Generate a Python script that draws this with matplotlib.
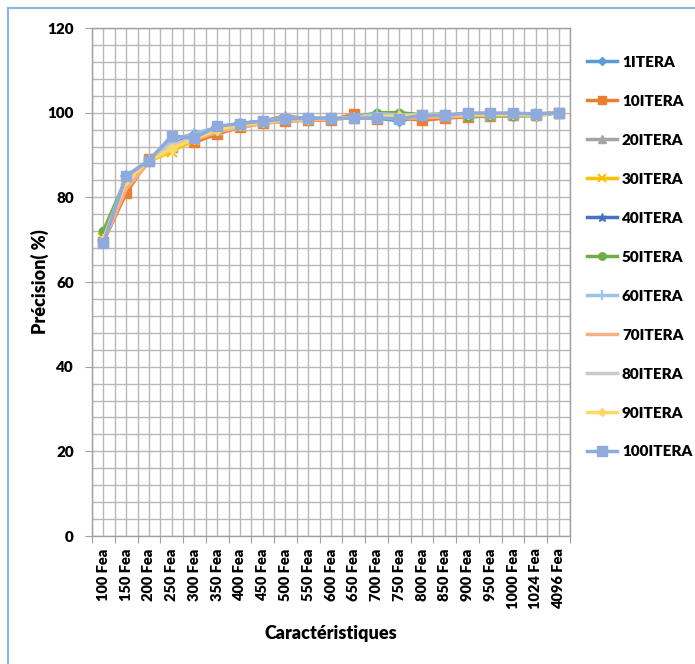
import matplotlib
matplotlib.use("Agg")
import matplotlib.pyplot as plt
from matplotlib.lines import Line2D
import numpy as np

plt.rcParams['font.family'] = ['Lato', 'DejaVu Sans']

categories = ["100 Fea", "150 Fea", "200 Fea", "250 Fea", "300 Fea", "350 Fea",
              "400 Fea", "450 Fea", "500 Fea", "550 Fea", "600 Fea", "650 Fea",
              "700 Fea", "750 Fea", "800 Fea", "850 Fea", "900 Fea", "950 Fea",
              "1000 Fea", "1024 Fea", "4096 Fea"]

it1 = [70.0, 84.5, 88.5, 93.5, 95.0, 96.5, 97.5, 98.0, 98.5, 98.5, 98.7, 98.8, 98.8, 98.0, 99.2, 99.2, 99.5, 99.6, 99.6, 99.5, 100.0]
it10 = [69.5, 81.0, 89.0, 92.0, 93.0, 95.0, 96.5, 97.5, 98.0, 98.2, 98.3, 99.6, 98.6, 98.8, 98.2, 98.7, 99.0, 99.3, 99.5, 99.5, 100.0]
it20 = [70.5, 84.0, 88.5, 92.0, 94.5, 96.0, 97.0, 98.0, 99.3, 98.5, 98.5, 98.8, 99.2, 99.5, 99.5, 99.3, 99.5, 99.5, 99.5, 99.5, 100.0]
it30 = [70.5, 84.0, 88.5, 90.8, 93.6, 96.0, 96.8, 97.8, 98.5, 98.5, 98.7, 98.8, 99.0, 99.3, 99.5, 99.2, 99.5, 99.5, 99.5, 99.5, 100.0]
it40 = [70.0, 84.5, 88.5, 93.0, 94.5, 96.5, 97.2, 98.0, 98.5, 98.7, 98.7, 98.8, 98.8, 98.6, 99.3, 99.3, 99.6, 99.6, 99.6, 99.5, 100.0]
it50 = [72.0, 84.5, 88.5, 92.5, 94.0, 96.0, 97.0, 98.0, 98.3, 98.5, 98.5, 98.8, 100.0, 100.0, 99.5, 99.7, 99.0, 99.2, 99.2, 99.3, 100.0]
it60 = [70.0, 85.0, 88.8, 93.5, 95.0, 96.5, 97.3, 98.0, 98.6, 98.7, 98.8, 98.8, 99.8, 99.5, 99.5, 99.5, 99.8, 99.8, 99.8, 99.7, 100.0]
it70 = [69.5, 82.0, 88.2, 92.0, 93.5, 95.5, 96.5, 97.5, 98.0, 98.3, 98.5, 98.8, 98.8, 98.6, 98.8, 99.0, 99.2, 99.4, 99.5, 99.5, 100.0]
it80 = [70.0, 84.0, 88.5, 92.5, 94.0, 96.0, 97.0, 98.0, 98.5, 98.6, 98.7, 98.8, 99.2, 99.3, 99.4, 99.4, 99.6, 99.6, 99.6, 99.5, 100.0]
it90 = [70.0, 84.0, 88.5, 91.5, 93.8, 96.0, 97.0, 97.8, 98.4, 98.6, 98.7, 98.8, 99.0, 99.2, 99.4, 99.4, 99.6, 99.6, 99.6, 99.5, 100.0]
it100 = [69.2, 85.0, 88.7, 94.5, 94.0, 96.8, 97.4, 98.0, 98.5, 98.7, 98.7, 98.7, 98.8, 98.5, 99.4, 99.4, 99.9, 99.9, 99.9, 99.7, 100.0]

series_names = ["1ITERA", "10ITERA", "20ITERA", "30ITERA", "40ITERA", "50ITERA",
                "60ITERA", "70ITERA", "80ITERA", "90ITERA", "100ITERA"]
series_values = [it1, it10, it20, it30, it40, it50, it60, it70, it80, it90, it100]

colors = ["#5B9BD5", "#ED7D31", "#A5A5A5", "#FFC000", "#4472C4", "#70AD47",
          "#9DC3E6", "#F4B183", "#C9C9C9", "#FFD966", "#8FAADC"]
markers = ["D", "s", "^", "x", "*", "o", "+", None, None, "D", "s"]
msizes = [5, 6.5, 6.5, 7, 7, 6, 8, 0, 0, 5, 7.5]

fig = plt.figure(figsize=(6.95, 6.64), dpi=100)
ax = fig.add_axes([92 / 695, 1 - 536 / 664, (570 - 92) / 695, (536 - 28) / 664])

x = np.arange(len(categories))
for name, vals, c, m, ms in zip(series_names, series_values, colors, markers, msizes):
    ax.plot(x, vals, color=c, lw=2.5, marker=m, markersize=ms,
            markeredgecolor=c, markerfacecolor=c, markeredgewidth=1.5 if m in ("x", "+") else 1,
            label=name, zorder=3, clip_on=False)

ax.set_xlim(-0.5, len(categories) - 0.5)
ax.set_ylim(0, 120)

# gridlines: every half category vertically, every 4 units horizontally
for gx in np.arange(-0.5, len(categories), 0.5):
    ax.axvline(gx, color="#b8b8b8", lw=1, zorder=1)
for gy in np.arange(0, 121, 4):
    ax.axhline(gy, color="#b8b8b8", lw=1, zorder=1)

ax.set_yticks(np.arange(0, 121, 20))
ax.set_yticklabels([str(v) for v in range(0, 121, 20)], fontsize=11, fontweight="heavy")
ax.set_xticks(np.arange(-0.5, len(categories), 1.0))
ax.set_xticklabels([])
ax.set_xticks(x, minor=True)
ax.set_xticklabels(categories, minor=True, rotation=90, fontsize=10.5, fontweight="heavy")
ax.tick_params(axis="x", which="major", length=5, color="#a0a0a0")
ax.tick_params(axis="x", which="minor", length=0, pad=9)
ax.tick_params(axis="y", length=5, color="#a0a0a0", pad=8)

for s in ax.spines.values():
    s.set_color("#a0a0a0")
    s.set_linewidth(1)

ax.set_ylabel("Précision( %)", fontsize=13, fontweight="heavy")
ax.set_xlabel("Caractéristiques", fontsize=13, fontweight="heavy")
ax.yaxis.set_label_coords((40 - 92) / 478, 0.5)
ax.xaxis.set_label_coords(0.5, (536 - 633) / 508)
ax.yaxis.label.set_va("center")
ax.xaxis.label.set_va("center")

handles = []
for name, c, m, ms in zip(series_names, colors, markers, msizes):
    handles.append(Line2D([0], [0], color=c, lw=2.5, marker=m, markersize=ms * 0.9,
                          markeredgecolor=c, markerfacecolor=c,
                          markeredgewidth=1.5 if m in ("x", "+") else 1))
fig.legend(handles, series_names, loc="upper left", bbox_to_anchor=(573 / 695, 1 - 42 / 664),
           frameon=False, prop={"weight": "heavy", "size": 11},
           handlelength=2.0, handletextpad=0.3, labelspacing=1.7)

# chart frame edges
fig.add_artist(Line2D([8 / 695, 1], [1 - 8 / 664, 1 - 8 / 664], color="#8DB4E2", lw=1.5,
                      transform=fig.transFigure))
fig.add_artist(Line2D([8 / 695, 8 / 695], [0, 1 - 8 / 664], color="#8DB4E2", lw=1.5,
                      transform=fig.transFigure))

fig.savefig("out.png", dpi=100)
